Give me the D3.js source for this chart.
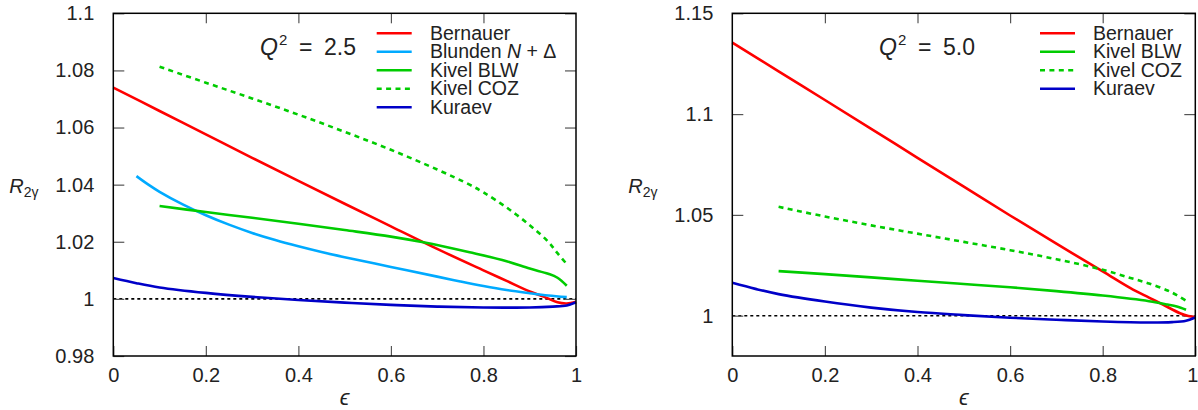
<!DOCTYPE html>
<html>
<head>
<meta charset="utf-8">
<script src="https://cdn.jsdelivr.net/npm/d3@7"></script>
<style>
  body { margin: 0; background: #fff; }
  svg { display: block; }
  text { font-family: "Liberation Sans", Arial, sans-serif; fill: #222; }
</style>
</head>
<body>
<svg id="chart" width="1198" height="410"></svg>
<script>
// Axis ticks
const xTickValues = [0, 0.2, 0.4, 0.6, 0.8, 1];
const xTickLabels = ["0", "0.2", "0.4", "0.6", "0.8", "1"];
const yTickValuesA = [0.98, 1, 1.02, 1.04, 1.06, 1.08, 1.1];
const yTickLabelsA = ["0.98", "1", "1.02", "1.04", "1.06", "1.08", "1.1"];
const yTickValuesB = [1, 1.05, 1.1, 1.15];
const yTickLabelsB = ["1", "1.05", "1.1", "1.15"];

// Q^2 = 2.5 : [epsilon, R_2gamma]
const bernauer25 = [[0,1.074],[0.1,1.0658],[0.2,1.0576],[0.3,1.0494],[0.4,1.0413],[0.5,1.0333],[0.6,1.0254],[0.7,1.0175],[0.8,1.0100],[0.85,1.0063],[0.9,1.0026],[0.93,1.0008],[0.96,0.9988],[0.98,0.9984],[1.0,0.9990]];
const blunden25 = [[0.05,1.043],[0.075,1.0401],[0.1,1.0375],[0.15,1.0331],[0.2,1.0293],[0.25,1.0260],[0.3,1.0231],[0.35,1.0206],[0.4,1.0184],[0.45,1.0164],[0.5,1.0146],[0.6,1.0112],[0.7,1.0078],[0.75,1.0061],[0.8,1.0045],[0.85,1.0031],[0.9,1.0020],[0.94,1.0012],[0.98,1.0006]];
const kivelBLW25 = [[0.1,1.0325],[0.2,1.0304],[0.3,1.0284],[0.4,1.0263],[0.5,1.0241],[0.6,1.0218],[0.67,1.0198],[0.77,1.0163],[0.85,1.0132],[0.9,1.0106],[0.94,1.0088],[0.96,1.0074],[0.98,1.0046]];
const kivelCOZ25 = [[0.1,1.0813],[0.2,1.0757],[0.3,1.0702],[0.4,1.0645],[0.5,1.0585],[0.6,1.0522],[0.7,1.0453],[0.77,1.0400],[0.8,1.0373],[0.85,1.0320],[0.9,1.0258],[0.94,1.0200],[0.96,1.0160],[0.98,1.0122]];
const kuraev25 = [[0,1.0073],[0.05,1.0055],[0.1,1.0040],[0.2,1.0021],[0.3,1.0007],[0.4,0.9996],[0.5,0.9987],[0.6,0.9979],[0.7,0.9973],[0.8,0.9970],[0.9,0.9970],[0.95,0.9973],[0.98,0.9977],[1.0,0.9988]];

// Q^2 = 5.0 : [epsilon, R_2gamma]
const bernauer50 = [[0,1.1355],[0.1,1.1212],[0.2,1.1070],[0.3,1.0927],[0.4,1.0783],[0.5,1.0640],[0.6,1.0497],[0.7,1.0357],[0.8,1.0220],[0.86,1.0137],[0.9,1.0090],[0.93,1.0055],[0.967,1.0012],[0.985,0.9998],[1.0,0.9992]];
const kivelBLW50 = [[0.1,1.0221],[0.2,1.0206],[0.3,1.0190],[0.4,1.0173],[0.5,1.0157],[0.6,1.0141],[0.7,1.0122],[0.8,1.0100],[0.9,1.0072],[0.94,1.0055],[0.96,1.0045],[0.98,1.0029]];
const kivelCOZ50 = [[0.1,1.0540],[0.2,1.0492],[0.3,1.0448],[0.4,1.0407],[0.5,1.0366],[0.6,1.0325],[0.7,1.0280],[0.8,1.0228],[0.86,1.0187],[0.9,1.0160],[0.94,1.0125],[0.96,1.0102],[0.98,1.0074]];
const kuraev50 = [[0,1.0163],[0.05,1.0133],[0.1,1.0107],[0.2,1.0070],[0.3,1.0040],[0.4,1.0018],[0.5,1.0003],[0.6,0.9990],[0.7,0.9980],[0.8,0.9971],[0.9,0.9966],[0.95,0.9968],[0.98,0.9975],[1.0,0.9991]];

const RED = "#ff0000", LIGHTBLUE = "#00aaff", GREEN = "#00cc00", DARKBLUE = "#0000c8";

const panels = [
  {
    left: 113.3, right: 576, top: 13.3, bottom: 356,
    yDomain: [0.98, 1.1], yTicks: yTickValuesA, yLabels: yTickLabelsA,
    q2: "2.5", q2x: 260,
    legendLine: [376.7, 411.7], legendText: 430,
    series: [
      { name: "Bernauer", data: bernauer25, color: RED },
      { name: "Blunden", data: blunden25, color: LIGHTBLUE, nd: true },
      { name: "Kivel BLW", data: kivelBLW25, color: GREEN },
      { name: "Kivel COZ", data: kivelCOZ25, color: GREEN, dash: "5,4.4" },
      { name: "Kuraev", data: kuraev25, color: DARKBLUE }
    ]
  },
  {
    left: 732.3, right: 1195.3, top: 13.3, bottom: 356,
    yDomain: [0.98, 1.15], yTicks: yTickValuesB, yLabels: yTickLabelsB,
    q2: "5.0", q2x: 879,
    legendLine: [1040, 1075], legendText: 1093,
    series: [
      { name: "Bernauer", data: bernauer50, color: RED },
      { name: "Kivel BLW", data: kivelBLW50, color: GREEN },
      { name: "Kivel COZ", data: kivelCOZ50, color: GREEN, dash: "5,4.4" },
      { name: "Kuraev", data: kuraev50, color: DARKBLUE }
    ]
  }
];

const svg = d3.select("#chart");

panels.forEach((p, pi) => {
  const x = d3.scaleLinear().domain([0, 1]).range([p.left, p.right]);
  const y = d3.scaleLinear().domain(p.yDomain).range([p.bottom, p.top]);
  const g = svg.append("g");

  // reference line at R = 1
  g.append("line")
    .attr("x1", x(0)).attr("x2", x(1))
    .attr("y1", y(1)).attr("y2", y(1))
    .attr("stroke", "#000").attr("stroke-width", 1.6)
    .attr("stroke-dasharray", "3,3");

  // axes with inward ticks on all four sides
  const fmtX = (d, i) => xTickLabels[i];
  const fmtY = (d, i) => p.yLabels[i];
  const styleAxis = sel => {
    sel.select(".domain").remove();
    sel.selectAll(".tick line").attr("stroke", "#555").attr("stroke-width", 1.2);
    sel.selectAll(".tick text").attr("font-size", 20).attr("fill", "#222")
      .attr("font-family", "\"Liberation Sans\", Arial, sans-serif");
  };
  const bottomAxis = g.append("g").attr("transform", `translate(0,${p.bottom})`)
    .call(d3.axisBottom(x).tickValues(xTickValues).tickFormat(fmtX).tickSize(-10).tickPadding(12))
    .call(styleAxis);
  if (pi === panels.length - 1) {
    // keep the last label inside the canvas
    bottomAxis.selectAll(".tick text").filter(d => d === 1).attr("dx", -3);
  }
  g.append("g").attr("transform", `translate(0,${p.top})`)
    .call(d3.axisTop(x).tickValues(xTickValues.slice(1, -1)).tickFormat("").tickSize(-10))
    .call(styleAxis);
  g.append("g").attr("transform", `translate(${p.left},0)`)
    .call(d3.axisLeft(y).tickValues(p.yTicks).tickFormat(fmtY).tickSize(-11).tickPadding(19))
    .call(styleAxis);
  g.append("g").attr("transform", `translate(${p.right},0)`)
    .call(d3.axisRight(y).tickValues(p.yTicks).tickFormat("").tickSize(-11))
    .call(styleAxis);

  // curves
  const line = d3.line().x(d => x(d[0])).y(d => y(d[1])).curve(d3.curveCatmullRom.alpha(0.5));
  p.series.forEach(s => {
    g.append("path").datum(s.data)
      .attr("d", line)
      .attr("fill", "none")
      .attr("stroke", s.color)
      .attr("stroke-width", 2.6)
      .attr("stroke-dasharray", s.dash || null);
  });

  // frame
  g.append("rect")
    .attr("x", p.left).attr("y", p.top)
    .attr("width", p.right - p.left).attr("height", p.bottom - p.top)
    .attr("fill", "none").attr("stroke", "#000").attr("stroke-width", 1.5);

  // legend
  p.series.forEach((s, i) => {
    const cy = 33.3 + i * 18.5;
    g.append("line")
      .attr("x1", p.legendLine[0]).attr("x2", p.legendLine[1])
      .attr("y1", cy).attr("y2", cy)
      .attr("stroke", s.color).attr("stroke-width", 2.6)
      .attr("stroke-dasharray", s.dash || null);
    const t = g.append("text").attr("x", p.legendText).attr("y", cy + 6.5).attr("font-size", 19.5);
    if (s.nd) {
      t.append("tspan").text("Blunden ");
      t.append("tspan").attr("font-style", "italic").text("N");
      t.append("tspan").text(" + Δ");
    } else {
      t.text(s.name);
    }
  });

  // Q^2 annotation
  const q = g.append("text").attr("y", 55).attr("font-size", 23);
  q.append("tspan").attr("x", p.q2x).attr("font-style", "italic").text("Q");
  q.append("tspan").attr("x", p.q2x + 19).attr("font-size", 15).attr("dy", -10).text("2");
  q.append("tspan").attr("x", p.q2x + 39).attr("dy", 10).text("=");
  q.append("tspan").attr("x", p.q2x + 64).text(p.q2);

  // axis titles
  const cx = (p.left + p.right) / 2;
  g.append("text").attr("x", cx).attr("y", 405).attr("text-anchor", "middle")
    .attr("font-size", 22).attr("font-style", "italic")
    .attr("font-family", "\"DejaVu Serif\", serif").text("ϵ");
  const r = g.append("text").attr("x", p.left - 104).attr("y", 193).attr("font-size", 20);
  r.append("tspan").attr("font-style", "italic").text("R");
  r.append("tspan").attr("font-size", 14).attr("dy", 4).text("2γ");
});
</script>
</body>
</html>
